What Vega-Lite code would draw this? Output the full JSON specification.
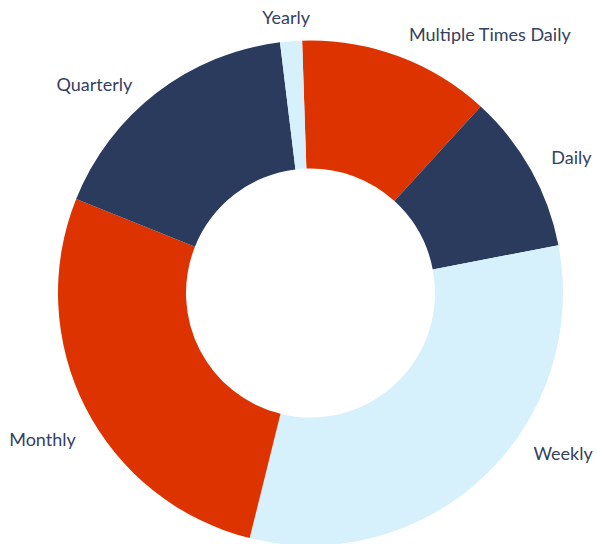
{
  "$schema": "https://vega.github.io/schema/vega-lite/v6.json",
  "width": 573,
  "height": 502,
  "autosize": "none",
  "padding": {"left": 24, "top": 42, "right": 0, "bottom": 0},
  "background": "white",
  "config": {"view": {"stroke": null}},
  "data": {
    "values": [
      {"freq": "Multiple Times Daily", "rank": 1, "share": 12.3},
      {"freq": "Daily", "rank": 2, "share": 10.2},
      {"freq": "Weekly", "rank": 3, "share": 31.9},
      {"freq": "Monthly", "rank": 4, "share": 27.2},
      {"freq": "Quarterly", "rank": 5, "share": 17.0},
      {"freq": "Yearly", "rank": 6, "share": 1.4}
    ]
  },
  "encoding": {
    "theta": {"field": "share", "type": "quantitative", "stack": true, "scale": {"range": [-0.0332, 6.25]}},
    "order": {"field": "rank", "type": "quantitative"}
  },
  "layer": [
    {
      "mark": {"type": "arc", "innerRadius": 124.5, "outerRadius": 252.5, "strokeWidth": 0},
      "encoding": {
        "color": {
          "field": "freq",
          "type": "nominal",
          "legend": null,
          "scale": {
            "domain": ["Multiple Times Daily", "Daily", "Weekly", "Monthly", "Quarterly", "Yearly"],
            "range": ["#DD3300", "#2A3B5E", "#D6F0FC", "#DD3300", "#2A3B5E", "#D6F0FC"]
          }
        }
      }
    },
    {
      "mark": {
        "type": "text",
        "radius": 276,
        "font": "Lato",
        "fontSize": 18,
        "color": "#34415F",
        "baseline": "middle",
        "align": {"expr": "datum.freq == 'Monthly' || datum.freq == 'Quarterly' ? 'right' : (datum.freq == 'Yearly' ? 'center' : 'left')"},
        "dx": {"expr": "datum.freq == 'Weekly' ? 33 : (datum.freq == 'Monthly' ? 11 : (datum.freq == 'Quarterly' ? -10 : (datum.freq == 'Yearly' ? -3 : (datum.freq == 'Multiple Times Daily' ? 3 : 0))))"},
        "dy": {"expr": "datum.freq == 'Weekly' ? -38 : (datum.freq == 'Monthly' ? 22 : (datum.freq == 'Quarterly' ? 12 : (datum.freq == 'Multiple Times Daily' ? 2 : 1)))"}
      },
      "encoding": {
        "text": {"field": "freq", "type": "nominal"}
      }
    }
  ]
}
